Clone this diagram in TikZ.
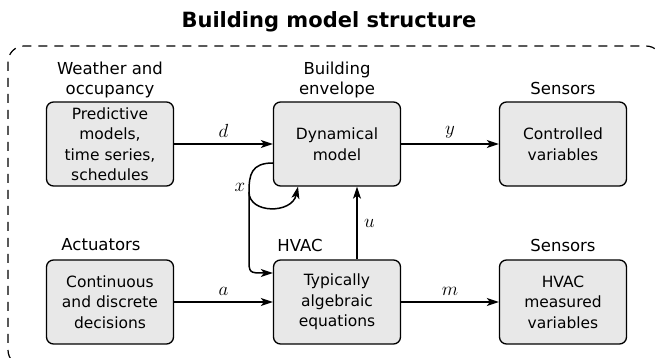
\documentclass[tikz,border=0pt]{standalone}
\usepackage{fix-cm}
\usepackage{fontspec}
\setmainfont{DejaVu Sans}
\usetikzlibrary{arrows.meta,calc}

\definecolor{boxgray}{RGB}{232,232,232}

\tikzset{
  block/.style={draw, line width=1.3pt, rounded corners=7pt, fill=boxgray,
    minimum width=127pt, minimum height=84pt, align=center,
    font=\fontsize{15.5}{20.5}\selectfont},
  heading/.style={align=center, font=\fontsize{16.5}{20.5}\selectfont},
  flow/.style={line width=1.5pt, -{Stealth[length=12pt,width=8pt,inset=3pt]}},
  sig/.style={font=\fontsize{19}{19}\selectfont}
}

\begin{document}
\begin{tikzpicture}[x=1pt,y=1pt,yscale=-1]
\clip (0,0) rectangle (657,358);

% title and dashed frame
\node[font=\bfseries\fontsize{21}{24}\selectfont] (title) at (329,22) {Building model structure};
\draw[line width=1.2pt, dash pattern=on 9pt off 7pt, rounded corners=16pt] (8,46) rectangle (662,366);

% blocks
\node[block] (pred) at (110,144) {Predictive\\models,\\time series,\\schedules};
\node[block] (dyn)  at (337,144) {Dynamical\\model};
\node[block] (ctrl) at (563,144) {Controlled\\variables};
\node[block] (dec)  at (110,302) {Continuous\\and discrete\\decisions};
\node[block] (alg)  at (337,302) {Typically\\algebraic\\equations};
\node[block] (meas) at (563,302) {HVAC\\measured\\variables};

% headings
\node[heading] (hweather) at (110,80)  {Weather and\\occupancy};
\node[heading] (henv)     at (337,80)  {Building\\envelope};
\node[heading] (hsens)    at (563,88)  {Sensors};
\node[heading] (hact)     at (101,245) {Actuators};
\node[heading] (hhvac)    at (300,245) {HVAC};
\node[heading] (hsens2)   at (563,245) {Sensors};

% signals
\draw[flow] (pred) -- node[sig, above=2pt] {$d$} (dyn);
\draw[flow] (dyn) -- node[sig, above=2pt] {$y$} (ctrl);
\draw[flow] (dec) -- node[sig, above=2pt] {$a$} (alg);
\draw[flow] (alg) -- node[sig, above=2pt] {$m$} (meas);
\draw[flow] ($(alg.north)+(20,0)$) -- node[sig, right=3pt] {$u$} ($(dyn.south)+(20,0)$);

% state feedback
\coordinate (xs) at ($(dyn.west)+(0,19)$);
\coordinate (xb) at (249,192);
\draw[line width=1.5pt] (xs) .. controls (251,163) and (249,175) .. (xb);
\draw[flow] (xb) .. controls (249,214) and (292,214) .. ($(dyn.south)+(-39,0)$);
\draw[flow] (xb) -- (249,258) .. controls (249,273) .. ($(alg.west)+(0,-29)$);
\node[sig] (xlab) at (240,187) {$x$};
\end{tikzpicture}
\end{document}
